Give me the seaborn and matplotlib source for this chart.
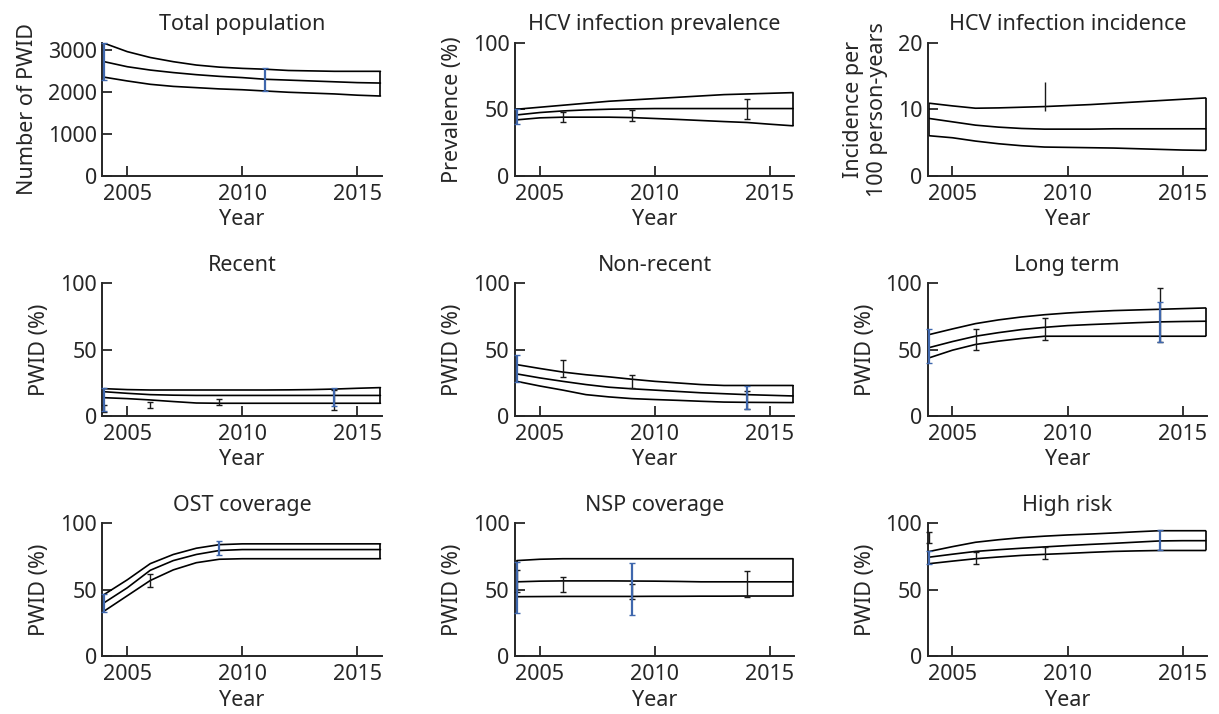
import matplotlib
matplotlib.use("Agg")
import matplotlib.pyplot as plt
import numpy as np
import seaborn as sns

# Model years (band drawn from 2004 to 2016)
YEARS = list(range(2004, 2017))

# Total population (number of PWID)
POP_UPPER = [3160, 2960, 2820, 2720, 2640, 2590, 2560, 2540, 2510, 2500, 2490, 2490, 2490]
POP_MID = [2720, 2600, 2520, 2460, 2410, 2370, 2340, 2300, 2280, 2260, 2240, 2220, 2210]
POP_LOWER = [2350, 2260, 2180, 2130, 2100, 2070, 2050, 2020, 1990, 1970, 1950, 1920, 1900]
POP_OBS = [(2004, 2290, 3160, "blue"), (2011, 2030, 2580, "blue")]

# HCV infection prevalence (%)
PREV_UPPER = [50, 51.5, 53, 54.5, 56, 57, 58, 59, 60, 61, 61.5, 62, 62.5]
PREV_MID = [45.7, 47.5, 48.7, 49.5, 50, 50.3, 50.5, 50.5, 50.5, 50.5, 50.5, 50.5, 50.5]
PREV_LOWER = [42, 43.5, 44, 44, 44, 43.7, 43, 42.3, 41.5, 40.7, 40, 38.7, 37.5]
PREV_OBS = [(2006, 40.4, 48, "black"), (2009, 41, 49.2, "black"),
            (2014, 42.4, 57.6, "black"), (2004, 39, 50, "blue")]

# HCV infection incidence (per 100 person-years)
INC_UPPER = [10.9, 10.5, 10.15, 10.2, 10.3, 10.4, 10.55, 10.7, 10.9, 11.1, 11.3, 11.5, 11.7]
INC_MID = [8.6, 8.1, 7.6, 7.3, 7.1, 7.0, 7.0, 7.0, 7.05, 7.05, 7.05, 7.05, 7.05]
INC_LOWER = [6.0, 5.7, 5.2, 4.8, 4.5, 4.3, 4.25, 4.2, 4.15, 4.05, 3.95, 3.85, 3.8]
INC_OBS = [(2009, 9.75, 14.1, "black")]

# Recent injectors (%)
REC_UPPER = [20.5, 19.8, 19.5, 19.5, 19.5, 19.5, 19.5, 19.5, 19.6, 19.8, 20.2, 20.8, 21.3]
REC_MID = [18.2, 17, 16, 15.6, 15.4, 15.4, 15.4, 15.4, 15.4, 15.4, 15.4, 15.4, 15.4]
REC_LOWER = [13.7, 13, 12, 10.8, 9.7, 9.5, 9.5, 9.5, 9.5, 9.5, 9.5, 9.5, 9.5]
REC_OBS = [(2004, 3, 8, "black"), (2006, 5.7, 10.4, "black"), (2009, 8, 13, "black"),
           (2014, 4.5, 19.4, "black"), (2004, 3.7, 21, "blue"), (2014, 7.5, 21, "blue")]

# Non-recent injectors (%)
NREC_UPPER = [38.6, 35.7, 33, 31, 29.4, 27.6, 26, 24.8, 23.6, 22.9, 22.9, 22.9, 22.9]
NREC_MID = [31.6, 28.6, 26, 23.6, 21.6, 20.4, 19.4, 18.4, 17.4, 16.7, 16, 15.5, 15]
NREC_LOWER = [26, 22.5, 19.4, 16, 14.3, 13, 12.3, 11.7, 11, 10.4, 10.2, 10.1, 10]
NREC_OBS = [(2006, 29, 41.8, "black"), (2009, 21, 31, "black"), (2014, 5, 18.7, "black"),
            (2004, 25.4, 46, "blue"), (2014, 5, 22.4, "blue")]

# Long-term injectors (%)
LONG_UPPER = [61.3, 65.5, 69.5, 72.3, 74.5, 76.2, 77.5, 78.5, 79.3, 79.8, 80.3, 80.8, 81.3]
LONG_MID = [51.5, 56, 60, 62.7, 65, 66.7, 68, 68.8, 69.5, 70.2, 70.8, 71.1, 71.3]
LONG_LOWER = [43.8, 49.5, 53.8, 56.3, 58.3, 60, 60, 60, 60, 60, 60, 60, 60]
LONG_OBS = [(2006, 49.5, 65.8, "black"), (2009, 57, 73.8, "black"), (2014, 55.8, 96, "black"),
            (2004, 40, 65.3, "blue"), (2014, 55.8, 85.5, "blue")]

# OST coverage (%)
OST_UPPER = [46.5, 57.5, 69.7, 76.6, 81.3, 84, 84.6, 84.6, 84.6, 84.6, 84.6, 84.6, 84.6]
OST_MID = [40.3, 51.5, 64.7, 72, 76.6, 79.6, 80.3, 80.3, 80.3, 80.3, 80.3, 80.3, 80.3]
OST_LOWER = [34, 45.5, 57, 65, 70.4, 73, 73.4, 73.4, 73.4, 73.4, 73.4, 73.4, 73.4]
OST_OBS = [(2006, 52.2, 61.7, "black"), (2004, 33.6, 47, "blue"), (2009, 76, 87, "blue")]

# NSP coverage (%)
NSP_UPPER = [72, 73, 73.4, 73.4, 73.4, 73.4, 73.4, 73.4, 73.4, 73.4, 73.4, 73.4, 73.4]
NSP_MID = [56, 56.5, 56.7, 56.7, 56.7, 56.6, 56.5, 56.3, 56, 56, 56, 56, 56]
NSP_LOWER = [44.8, 44.9, 45, 45, 45, 45, 45.1, 45.1, 45.2, 45.2, 45.3, 45.3, 45.3]
NSP_OBS = [(2004, 48.5, 64.7, "black"), (2006, 48.5, 59.7, "black"), (2009, 43, 54, "black"),
           (2014, 44.8, 64.2, "black"), (2004, 32.3, 71, "blue"), (2009, 31, 70.4, "blue")]

# High-risk injectors (%)
HIGH_UPPER = [78.9, 82.5, 85.8, 87.7, 89.3, 90.4, 91.3, 92, 92.8, 93.7, 94.5, 94.5, 94.5]
HIGH_MID = [74.6, 76.8, 78.9, 80.2, 81.3, 82.3, 83.3, 84.2, 85, 85.9, 86.8, 87, 87]
HIGH_LOWER = [69.7, 71.6, 73.4, 74.7, 75.9, 76.7, 77.4, 78.2, 78.9, 79.3, 79.6, 79.6, 79.6]
HIGH_OBS = [(2004, 85, 93.8, "black"), (2006, 69.2, 78.4, "black"), (2009, 73, 82, "black"),
            (2004, 69.7, 78.9, "blue"), (2014, 79.6, 95.3, "blue")]

PANELS = [
    ("Total population", "Number of PWID", (0, 3170), [0, 1000, 2000, 3000],
     POP_UPPER, POP_MID, POP_LOWER, POP_OBS),
    ("HCV infection prevalence", "Prevalence (%)", (0, 100), [0, 50, 100],
     PREV_UPPER, PREV_MID, PREV_LOWER, PREV_OBS),
    ("HCV infection incidence", "Incidence per\n100 person-years", (0, 20), [0, 10, 20],
     INC_UPPER, INC_MID, INC_LOWER, INC_OBS),
    ("Recent", "PWID (%)", (0, 100), [0, 50, 100],
     REC_UPPER, REC_MID, REC_LOWER, REC_OBS),
    ("Non-recent", "PWID (%)", (0, 100), [0, 50, 100],
     NREC_UPPER, NREC_MID, NREC_LOWER, NREC_OBS),
    ("Long term", "PWID (%)", (0, 100), [0, 50, 100],
     LONG_UPPER, LONG_MID, LONG_LOWER, LONG_OBS),
    ("OST coverage", "PWID (%)", (0, 100), [0, 50, 100],
     OST_UPPER, OST_MID, OST_LOWER, OST_OBS),
    ("NSP coverage", "PWID (%)", (0, 100), [0, 50, 100],
     NSP_UPPER, NSP_MID, NSP_LOWER, NSP_OBS),
    ("High risk", "PWID (%)", (0, 100), [0, 50, 100],
     HIGH_UPPER, HIGH_MID, HIGH_LOWER, HIGH_OBS),
]

_OBS_COLORS = {"black": "#1a1a1a", "blue": "#3f67ad"}
_OBS_WIDTH = {"black": 1.0, "blue": 1.6}
_FS = 15.5

sns.set_style("ticks")
plt.rcParams["font.family"] = ["Noto Sans", "DejaVu Sans"]
plt.rcParams["font.size"] = _FS

fig, axes = plt.subplots(3, 3, figsize=(12.19, 7.14), dpi=100)
fig.subplots_adjust(left=0.084, right=0.99, bottom=0.081, top=0.94,
                    wspace=0.478, hspace=0.81)

for ax, (title, ylabel, ylim, yticks, upper, mid, lower, obs) in zip(axes.flat, PANELS):
    for series in (upper, mid, lower):
        sns.lineplot(x=YEARS, y=series, ax=ax, color="black", linewidth=1.2)
    # close the band at both ends
    ax.vlines([YEARS[0], YEARS[-1]], [lower[0], lower[-1]], [upper[0], upper[-1]],
              color="black", linewidth=1.2)

    for src in ("black", "blue"):
        pts = [o for o in obs if o[3] == src]
        if not pts:
            continue
        xs = np.array([p[0] for p in pts], dtype=float)
        lo = np.array([p[1] for p in pts])
        hi = np.array([p[2] for p in pts])
        centre = (lo + hi) / 2
        cap = 0 if title == "HCV infection incidence" else 2
        ax.errorbar(xs, centre, yerr=[centre - lo, hi - centre], fmt="none",
                    ecolor=_OBS_COLORS[src], elinewidth=_OBS_WIDTH[src],
                    capsize=cap, capthick=1.0, clip_on=False, zorder=3)

    ax.set_xlim(2003.92, 2016.05)
    ax.set_ylim(*ylim)
    ax.set_xticks([2005, 2010, 2015])
    ax.set_yticks(yticks)
    ax.set_title(title, fontsize=_FS, pad=9)
    ax.set_xlabel("Year", fontsize=_FS, labelpad=3)
    ax.set_ylabel(ylabel, fontsize=_FS, labelpad=7)
    ax.tick_params(direction="in", length=7, width=1.3, labelsize=_FS)
    ax.tick_params(axis="x", pad=6)
    ax.tick_params(axis="y", pad=4)
    sns.despine(ax=ax)
    for side in ("left", "bottom"):
        ax.spines[side].set_linewidth(1.4)

fig.savefig("out.png", dpi=100)
plt.close(fig)
